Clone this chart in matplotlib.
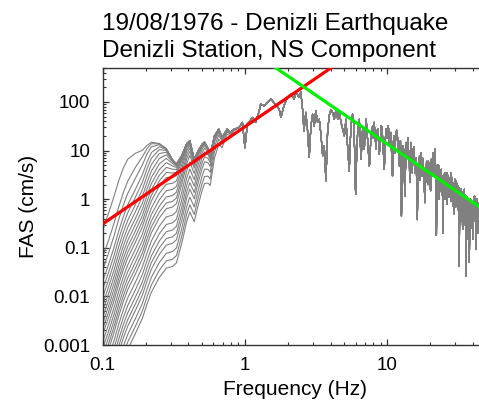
import numpy as np
import matplotlib
matplotlib.use('Agg')
import matplotlib.pyplot as plt
from matplotlib.ticker import FixedLocator, FixedFormatter, LogLocator, NullFormatter

plt.rcParams['font.family'] = ['Liberation Sans', 'DejaVu Sans']

# ---- data ----
# unfiltered Fourier amplitude spectrum (Hz, cm/s)
freq_hz = [0.1, 0.11, 0.12, 0.13, 0.14, 0.15, 0.17, 0.19, 0.205, 0.22, 0.25, 0.28, 0.31, 0.33,
           0.36, 0.39, 0.41, 0.44, 0.47, 0.5, 0.52, 0.55, 0.57, 0.61, 0.655, 0.69, 0.75, 0.79,
           0.84, 0.91, 0.96, 1.0, 1.04, 1.13, 1.19, 1.26, 1.29, 1.36, 1.48, 1.52, 1.6, 1.74,
           1.79, 1.88, 1.99, 2.1, 2.22, 2.28, 2.4, 2.47, 2.54, 2.6, 2.68, 2.75, 2.83, 2.91,
           2.99, 3.07, 3.15, 3.24, 3.33, 3.42, 3.52, 3.61, 3.71, 3.81, 3.91, 4.02, 4.13, 4.25,
           4.37, 4.49, 4.61, 4.74, 5.0, 5.13, 5.41, 5.56, 5.71, 6.0, 6.2, 6.37, 6.55, 6.72,
           6.9, 7.1, 7.3, 7.5, 7.7, 7.9, 8.1, 8.35, 8.6, 8.8, 9.05, 9.3, 9.55, 9.8, 10.1,
           10.4, 10.6, 10.9, 11.2, 11.5, 11.9, 12.2, 12.6, 12.9, 13.3, 13.6, 14.0, 14.2, 14.4,
           14.5, 14.7, 14.9, 15.2, 15.4, 15.6, 15.8, 16.1, 16.3, 16.6, 16.9, 17.1, 17.4, 17.6,
           17.9, 18.1, 18.4, 18.6, 18.9, 19.2, 19.5, 19.9, 20.1, 20.4, 20.7, 21.0, 21.3, 21.6,
           21.9, 22.2, 22.5, 22.8, 23.1, 23.4, 23.7, 24.0, 24.3, 24.7, 25.0, 25.4, 25.8, 26.2,
           26.5, 26.9, 27.3, 27.7, 28.2, 28.6, 29.0, 29.4, 29.8, 30.2, 30.6, 31.3, 31.7, 32.1,
           32.5, 33.0, 33.4, 33.9, 34.4, 34.9, 35.3, 35.8, 36.3, 36.8, 37.3, 37.8, 38.3, 38.9,
           39.4, 40.0, 40.5, 41.1, 41.6, 42.2, 42.8, 43.4, 44.0, 44.6, 45.0, 46.0,
           # additional readings in the dense part of the spectrum
           5.27, 5.85, 6.1, 7.0, 7.2, 7.6, 8.0, 8.45, 8.95, 9.2, 9.65, 9.95, 10.25, 10.75,
           11.05, 11.35, 11.7, 12.05, 12.4, 12.75, 13.1, 13.45, 13.8,
           14.3, 14.6, 14.8, 15.0, 15.3, 15.5, 15.7, 15.95, 16.2, 16.45, 16.75, 17.0, 17.25,
           17.5, 17.75, 18.0, 18.25, 18.5, 18.75, 19.05, 19.35, 19.7, 20.0, 20.25, 20.55,
           20.85, 21.15, 21.45, 21.75, 22.05, 22.35, 22.65, 22.95, 23.25, 23.55, 23.85, 24.15,
           24.5, 24.85, 25.2, 25.6, 26.0, 26.35, 26.7, 27.1, 27.5, 27.95, 28.4, 28.8, 29.2,
           29.6, 30.0, 30.4, 30.95, 31.5, 31.9, 32.3, 32.75, 33.2, 33.65, 34.15, 34.65, 35.05,
           35.55, 36.05, 36.55, 37.05, 37.55, 38.05, 38.6, 39.15, 39.7, 40.25, 40.8, 41.35,
           41.9, 42.5, 43.1, 43.7, 44.3, 44.8, 45.5]
fas_base = [3.0, 3.8, 5.0, 7.0, 8.8, 10, 10, 10.5, 13, 15, 14, 11, 6.5, 5.3,
            8, 14, 16, 6.6, 10, 13.5, 15, 11, 8, 20, 27.6, 18.6, 27.6, 23.4,
            27.6, 30, 38, 11.5, 35, 48, 38, 66, 91, 83, 107, 115, 97, 72,
            48, 83, 125, 146, 115, 160, 125, 160, 72, 25.5, 61, 27.6, 7.2, 32,
            56, 32, 66, 38, 44, 22, 7.8, 12.6, 2.4, 23.6, 52, 70, 61, 44,
            72, 44, 61, 38, 20, 44, 3.8, 32, 56, 1.26, 23.6, 44, 6.6, 27.6,
            10.7, 44, 14.7, 4.8, 20, 32, 38, 10.7, 27.6, 8.5, 32, 17, 4.1, 27.6, 32,
            12.6, 23.6, 3.0, 20, 23.6, 14.7, 4.8, 0.45, 12.6, 1.16, 14.7, 18, 6, 2.2,
            9, 14.7, 5, 10.7, 8, 3.5, 6, 2.5, 0.38, 5, 7.8, 4, 9.1, 6,
            3.0, 2, 0.85, 4.5, 5.6, 3.5, 6, 1.6, 2.5, 6.6, 4, 9.1, 5, 10.7,
            2.5, 0.18, 5, 3.0, 4, 2.2, 1.5, 4.1, 3, 0.2, 1.2, 3.5, 2.5, 1.5,
            3.5, 3.0, 1.1, 2.8, 3.5, 1.5, 0.72, 2.2, 2.6, 1.0, 2.4, 1.9, 1.2, 0.042,
            1.5, 1.6, 0.6, 0.24, 1.3, 1.6, 0.5, 0.026, 1.1, 1.0, 0.4, 0.05, 0.9, 0.72,
            0.5, 0.2, 0.9, 1.16, 0.35, 0.093, 1.0, 0.85, 0.5, 0.36, 0.6, 0.4,
            12, 30, 8, 20, 30, 10, 18, 25, 15, 30, 12, 18, 28, 8,
            15, 9, 26, 8, 16, 5, 10, 4, 8,
            10, 4, 9, 3.5, 6, 12, 4.5, 7, 1.5, 4, 6, 2.5, 5,
            3, 7, 4, 1.8, 3.5, 2.2, 6, 2.0, 4.5, 3.5, 1.5, 5,
            3, 7, 3.5, 6, 1.5, 3.5, 1.2, 5, 1.0, 3.5, 2.5, 1.2,
            3.0, 1.8, 3.2, 1.0, 2.8, 0.8, 2.2, 1.5, 2.6, 0.9, 2.5, 1.3, 1.8,
            0.5, 2.2, 0.7, 1.8, 0.6, 1.7, 0.5, 1.2, 0.35, 1.4, 0.45, 1.1, 0.3,
            1.2, 0.35, 0.9, 0.15, 0.9, 0.3, 1.0, 0.25, 0.8, 0.15, 0.7, 0.4,
            0.8, 0.3, 0.6, 0.2, 0.7, 0.25, 0.5]
# low-cut filter corners of the processed records (Hz)
corner_hz = [0.153, 0.19, 0.21, 0.23, 0.245, 0.26, 0.275, 0.29, 0.305, 0.32, 0.335, 0.35,
             0.37, 0.39, 0.41, 0.43, 0.45, 0.48, 0.51, 0.54, 0.57, 0.6, 0.64, 0.68, 0.72]
filter_order = 6

# source-spectrum asymptotes (end points)
red_f = [0.1, 4.2]
red_a = [0.31, 547]
green_f = [1.55, 50]
green_a = [570, 0.55]

x_ticks = [0.1, 1, 10]
x_tick_labels = ['0.1', '1', '10']
y_ticks = [0.001, 0.01, 0.1, 1, 10, 100]
y_tick_labels = ['0.001', '0.01', '0.1', '1', '10', '100']

title_line1 = '19/08/1976 - Denizli Earthquake'
title_line2 = 'Denizli Station, NS Component'

# ---- figure ----
W, H = 479, 409
fig = plt.figure(figsize=(W / 100, H / 100), dpi=100)
ax = fig.add_axes([102.7 / W, 64 / H, 383.9 / W, 277 / H])

order = np.argsort(freq_hz)
f = np.array(freq_hz)[order]
a = np.array(fas_base)[order]
for fc in corner_hz:
    resp = 1.0 / np.sqrt(1.0 + (fc / f) ** (2 * filter_order))
    ax.plot(f, a * resp, color='#808080', lw=0.8, zorder=2)

ax.plot(red_f, red_a, color='#ff0000', lw=2.3, zorder=4, solid_capstyle='butt')
ax.plot(green_f, green_a, color='#00ee00', lw=2.3, zorder=4, solid_capstyle='butt')

ax.set_xscale('log')
ax.set_yscale('log')
ax.set_xlim(0.1, 50)
ax.set_ylim(0.001, 500)

ax.xaxis.set_major_locator(FixedLocator(x_ticks))
ax.xaxis.set_major_formatter(FixedFormatter(x_tick_labels))
ax.yaxis.set_major_locator(FixedLocator(y_ticks))
ax.yaxis.set_major_formatter(FixedFormatter(y_tick_labels))
ax.xaxis.set_minor_locator(LogLocator(base=10, subs=np.arange(2, 10), numticks=20))
ax.yaxis.set_minor_locator(LogLocator(base=10, subs=np.arange(2, 10), numticks=20))
ax.xaxis.set_minor_formatter(NullFormatter())
ax.yaxis.set_minor_formatter(NullFormatter())

spine_col = '#333333'
for s in ['top', 'bottom', 'left']:
    ax.spines[s].set_color(spine_col)
    ax.spines[s].set_linewidth(1.0)
ax.spines['right'].set_visible(False)

ax.tick_params(which='both', direction='in', top=True, right=False, colors=spine_col,
               labelcolor='black', labelsize=13.5)
ax.tick_params(which='major', length=4.5, width=0.9)
ax.tick_params(which='minor', length=2.5, width=0.8)
ax.tick_params(axis='x', which='major', pad=9)
ax.tick_params(axis='y', which='major', pad=9)

ax.set_xlabel('Frequency (Hz)', fontsize=15, labelpad=4)
ax.set_ylabel('FAS (cm/s)', fontsize=15, labelpad=4)

fig.text(102 / W, 1 - 30 / H, title_line1, fontsize=17.5, ha='left', va='baseline')
fig.text(102 / W, 1 - 57 / H, title_line2, fontsize=17.5, ha='left', va='baseline')

fig.savefig('out.png', dpi=100)
